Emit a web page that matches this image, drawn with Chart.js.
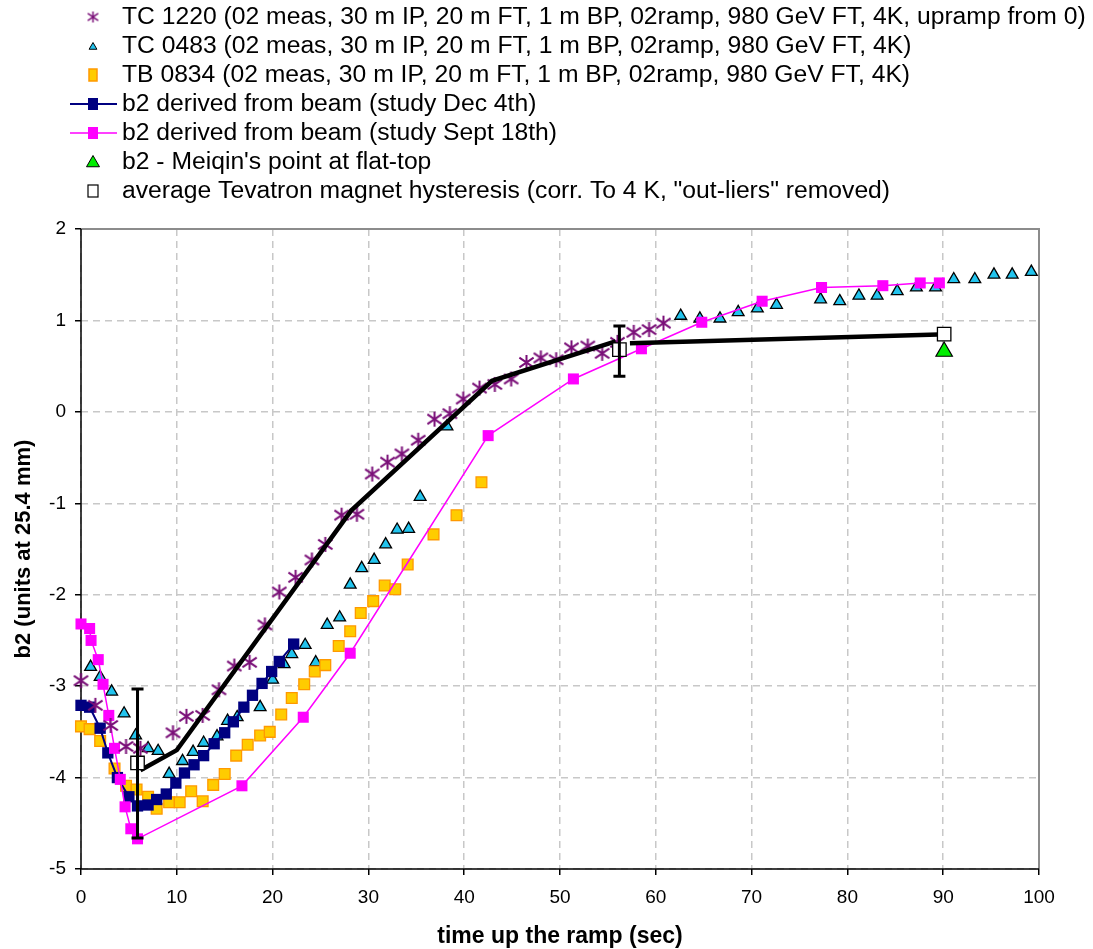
<!DOCTYPE html>
<html>
<head>
<meta charset="utf-8">
<title>b2 up the ramp</title>
<script src="https://cdn.jsdelivr.net/npm/chart.js@4.4.0/dist/chart.umd.min.js"></script>
<style>
  body { margin: 0; background: #fff; }
  #wrap { width: 1093px; height: 949px; }
</style>
</head>
<body>
<div id="wrap"><canvas id="b2Chart" width="1093" height="949"></canvas></div>
<script>
// TC 1220 magnet measurement (upramp from 0)
const tc1220X = [0, 1.5, 3.1, 4.7, 6.2, 9.6, 11.0, 12.7, 14.4, 16.0, 17.6, 19.2, 20.7, 22.4, 24.1, 25.5, 27.2, 28.8,
                 30.4, 32.0, 33.5, 35.2, 36.9, 38.5, 39.9, 41.6, 43.2, 44.9, 46.5, 48.0, 49.6, 51.2, 52.9, 54.4, 56.0, 57.7, 59.3, 60.8];
const tc1220Y = [-2.94, -3.21, -3.43, -3.66, -3.68, -3.51, -3.33, -3.32, -3.04, -2.78, -2.74, -2.33, -1.97, -1.81, -1.62, -1.45, -1.13, -1.12,
                 -0.68, -0.55, -0.46, -0.31, -0.08, -0.02, 0.14, 0.26, 0.30, 0.36, 0.54, 0.59, 0.57, 0.70, 0.72, 0.64, 0.76, 0.87, 0.90, 0.97];

// TC 0483
const tc0483X = [1.0, 2.0, 3.2, 4.5, 5.7, 7.0, 8.05, 9.2, 10.6, 11.7, 12.8, 14.2, 15.3, 16.3, 18.7, 20.0, 21.2, 22.0, 23.4, 24.5,
                 25.7, 27.0, 28.1, 29.3, 30.6, 31.8, 33.0, 34.2, 35.4, 38.2, 62.6, 64.6, 66.7, 68.6, 70.6, 72.6,
                 77.2, 79.2, 81.2, 83.1, 85.2, 87.2, 89.2, 91.1, 93.3, 95.3, 97.2, 99.2];
const tc0483Y = [-2.79, -2.90, -3.06, -3.30, -3.54, -3.68, -3.71, -3.96, -3.82, -3.72, -3.62, -3.55, -3.38, -3.34, -3.23, -2.93, -2.76, -2.65, -2.55, -2.74,
                 -2.33, -2.25, -1.89, -1.71, -1.62, -1.45, -1.29, -1.28, -0.93, -0.16, 1.05, 1.02, 1.02, 1.09, 1.13, 1.17,
                 1.23, 1.21, 1.27, 1.27, 1.32, 1.36, 1.36, 1.45, 1.45, 1.50, 1.50, 1.53];

// TB 0834
const tb0834X = [0, 0.9, 2.0, 3.5, 4.7, 5.8, 7.0, 7.9, 9.2, 10.3, 11.5, 12.7, 13.8, 15.0, 16.2, 17.4, 18.7, 19.7, 20.9, 22.0,
                 23.3, 24.4, 25.5, 26.9, 28.1, 29.2, 30.5, 31.7, 32.8, 34.1, 36.8, 39.2, 41.8];
const tb0834Y = [-3.44, -3.47, -3.60, -3.90, -4.09, -4.13, -4.21, -4.34, -4.27, -4.27, -4.15, -4.26, -4.08, -3.96, -3.76, -3.64, -3.54, -3.50, -3.31, -3.13,
                 -2.98, -2.84, -2.77, -2.56, -2.40, -2.20, -2.07, -1.90, -1.94, -1.67, -1.34, -1.13, -0.77];

// b2 from beam, study Dec 4th
const dec4X = [0, 0.9, 2.0, 2.8, 3.8, 5.0, 5.9, 7.0, 7.9, 8.9, 9.9, 10.8, 11.8, 12.8, 13.9, 15.0, 15.9, 17.0, 17.9, 18.9, 19.9, 20.7, 22.2];
const dec4Y = [-3.21, -3.23, -3.46, -3.73, -4.00, -4.21, -4.31, -4.30, -4.24, -4.18, -4.06, -3.95, -3.86, -3.76, -3.63, -3.51, -3.39, -3.23, -3.10, -2.97, -2.84, -2.73, -2.54];

// b2 from beam, study Sept 18th
const sep18X = [0, 0.9, 1.05, 1.8, 2.3, 2.9, 3.5, 4.1, 4.6, 5.2, 5.9, 16.8, 23.2, 28.1, 42.5, 51.4, 58.5, 64.8, 71.1, 77.3, 83.7, 87.6, 89.6];
const sep18Y = [-2.32, -2.37, -2.50, -2.71, -2.98, -3.32, -3.68, -4.02, -4.32, -4.56, -4.67, -4.09, -3.34, -2.64, -0.26, 0.36, 0.69, 0.98, 1.21, 1.36, 1.38, 1.41, 1.41];

// Meiqin's flat-top point
const meiqinX = [90.1];
const meiqinY = [0.66];

// average hysteresis with error bars
const hystX = [5.9, 56.2, 90.1];
const hystY = [-3.84, 0.68, 0.85];
const hystLow = [-4.66, 0.39, null];
const hystHigh = [-3.03, 0.94, null];

// thick black hysteresis curve (gap after 56 s)
const hystLineX = [6.2, 10.0, 28.2, 42.9, 55.8, 56.5, 57.3, 90.4];
const hystLineY = [-3.92, -3.70, -1.08, 0.34, 0.77, null, 0.75, 0.85];

const xTicks = [0, 10, 20, 30, 40, 50, 60, 70, 80, 90, 100];
const yTicks = [-5, -4, -3, -2, -1, 0, 1, 2];

const legendLabels = [
    "TC 1220 (02 meas, 30 m IP, 20 m FT, 1 m BP, 02ramp, 980 GeV FT, 4K, upramp from 0)",
    "TC 0483 (02 meas, 30 m IP, 20 m FT, 1 m BP, 02ramp, 980 GeV FT, 4K)",
    "TB 0834 (02 meas, 30 m IP, 20 m FT, 1 m BP, 02ramp, 980 GeV FT, 4K)",
    "b2 derived from beam (study Dec 4th)",
    "b2 derived from beam (study Sept 18th)",
    "b2 - Meiqin's point at flat-top",
    "average Tevatron magnet hysteresis (corr. To 4 K, \"out-liers\" removed)"
];

function pairs(xs, ys) {
    return xs.map((x, i) => ({ x: x, y: ys[i] }));
}

// asterisk marker: an x with a vertical bar
function makeAsterisk(size, color, lw) {
    const c = document.createElement('canvas');
    c.width = size; c.height = size;
    const g = c.getContext('2d');
    const m = size / 2, r = size / 2 - 1;
    g.strokeStyle = color;
    g.lineWidth = lw;
    g.beginPath();
    g.moveTo(m - r * 0.95, m - r * 0.65); g.lineTo(m + r * 0.95, m + r * 0.65);
    g.moveTo(m + r * 0.95, m - r * 0.65); g.lineTo(m - r * 0.95, m + r * 0.65);
    g.moveTo(m, m - r); g.lineTo(m, m + r);
    g.stroke();
    return c;
}

const starMark = makeAsterisk(17, '#7a0f78', 2);
const starMarkSmall = makeAsterisk(13, '#7a0f78', 1.5);

// error bars on the hysteresis points
const errorBars = {
    id: 'errorBars',
    afterDatasetsDraw(chart) {
        const xs = chart.scales.x, ys = chart.scales.y;
        const ctx = chart.ctx;
        ctx.save();
        ctx.strokeStyle = '#000';
        ctx.lineWidth = 3;
        hystX.forEach((x, i) => {
            if (hystLow[i] === null) return;
            const px = xs.getPixelForValue(x);
            const y1 = ys.getPixelForValue(hystLow[i]);
            const y2 = ys.getPixelForValue(hystHigh[i]);
            ctx.beginPath();
            ctx.moveTo(px, y1); ctx.lineTo(px, y2);
            ctx.moveTo(px - 6, y1); ctx.lineTo(px + 6, y1);
            ctx.moveTo(px - 6, y2); ctx.lineTo(px + 6, y2);
            ctx.stroke();
        });
        ctx.restore();
    }
};

// plot frame, axis titles and the stacked legend
const frame = {
    id: 'frame',
    beforeDatasetsDraw(chart) {
        const a = chart.chartArea, ctx = chart.ctx;
        ctx.save();
        ctx.strokeStyle = '#8c8c8c';
        ctx.lineWidth = 2;
        ctx.beginPath();
        ctx.moveTo(a.left, a.top); ctx.lineTo(a.right, a.top); ctx.lineTo(a.right, a.bottom);
        ctx.stroke();
        ctx.strokeStyle = '#000';
        ctx.lineWidth = 1.5;
        ctx.beginPath();
        ctx.moveTo(a.left, a.top); ctx.lineTo(a.left, a.bottom); ctx.lineTo(a.right, a.bottom);
        ctx.stroke();
        ctx.restore();
    },
    afterDraw(chart) {
        const a = chart.chartArea, ctx = chart.ctx;
        ctx.save();
        ctx.fillStyle = '#000';
        ctx.textAlign = 'center';
        ctx.textBaseline = 'middle';
        ctx.font = 'bold 23px "Liberation Sans", Arial, sans-serif';
        ctx.fillText('time up the ramp (sec)', (a.left + a.right) / 2, 937);
        ctx.font = 'bold 22px "Liberation Sans", Arial, sans-serif';
        ctx.translate(24, (a.top + a.bottom) / 2);
        ctx.rotate(-Math.PI / 2);
        ctx.fillText('b2 (units at 25.4 mm)', 0, 0);
        ctx.restore();

        const draw = Chart.helpers.drawPoint;
        ctx.save();
        ctx.font = '24.7px "Liberation Sans", Arial, sans-serif';
        ctx.textBaseline = 'middle';
        ctx.textAlign = 'left';
        legendLabels.forEach((text, i) => {
            const y = 17 + i * 29;
            const mx = 93;
            ctx.lineWidth = 1;
            if (i === 0) {
                ctx.drawImage(starMarkSmall, mx - 6.5, y - 6.5);
            } else if (i === 1) {
                ctx.fillStyle = '#22c4ee'; ctx.strokeStyle = '#000'; ctx.lineWidth = 1;
                draw(ctx, { pointStyle: 'triangle', radius: 4.5, rotation: 0, borderWidth: 1 }, mx, y + 1);
            } else if (i === 2) {
                ctx.fillStyle = '#ffcc00'; ctx.strokeStyle = '#ff9900'; ctx.lineWidth = 1.5;
                ctx.fillRect(mx - 4, y - 6, 8, 12); ctx.strokeRect(mx - 4, y - 6, 8, 12);
            } else if (i === 3 || i === 4) {
                const col = i === 3 ? '#000080' : '#ff00ff';
                ctx.strokeStyle = col; ctx.lineWidth = i === 3 ? 2 : 1.5;
                ctx.beginPath(); ctx.moveTo(70, y); ctx.lineTo(117, y); ctx.stroke();
                ctx.fillStyle = col;
                ctx.fillRect(mx - 5, y - 6, 10, 12);
            } else if (i === 5) {
                ctx.fillStyle = '#00ee00'; ctx.strokeStyle = '#000'; ctx.lineWidth = 1;
                draw(ctx, { pointStyle: 'triangle', radius: 7.5, rotation: 0, borderWidth: 1 }, mx, y + 1);
            } else {
                ctx.fillStyle = '#fff'; ctx.strokeStyle = '#000'; ctx.lineWidth = 1.2;
                ctx.fillRect(mx - 5, y - 6, 10, 12); ctx.strokeRect(mx - 5, y - 6, 10, 12);
            }
            ctx.fillStyle = '#000';
            ctx.fillText(text, 122, y);
        });
        ctx.restore();
    }
};

const axisGrid = {
    color: '#c8c8c8',
    lineWidth: 1.5,
    tickColor: '#000',
    tickLength: 6,
    tickBorderDash: [],
    tickWidth: 1.5
};

const ctx = document.getElementById('b2Chart').getContext('2d');
new Chart(ctx, {
    type: 'scatter',
    data: {
        datasets: [
            {
                label: 'average hysteresis curve',
                data: pairs(hystLineX, hystLineY),
                showLine: true,
                spanGaps: false,
                borderColor: '#000',
                borderWidth: 4.5,
                pointRadius: 0,
                order: 2
            },
            {
                label: legendLabels[6],
                data: pairs(hystX, hystY),
                pointStyle: 'rect',
                pointRadius: 9.5,
                backgroundColor: '#fff',
                borderColor: '#000',
                pointBorderWidth: 1.3,
                clip: false,
                order: 1
            },
            {
                label: legendLabels[5],
                data: pairs(meiqinX, meiqinY),
                pointStyle: 'triangle',
                pointRadius: 9.5,
                backgroundColor: '#00ee00',
                borderColor: '#000',
                pointBorderWidth: 1.2,
                clip: false,
                order: 1
            },
            {
                label: legendLabels[0],
                data: pairs(tc1220X, tc1220Y),
                pointStyle: starMark,
                clip: false,
                order: 3
            },
            {
                label: legendLabels[4],
                data: pairs(sep18X, sep18Y),
                showLine: true,
                borderColor: '#ff00ff',
                backgroundColor: '#ff00ff',
                borderWidth: 1.5,
                pointStyle: 'rect',
                pointRadius: 7.8,
                pointBorderWidth: 0,
                clip: false,
                order: 4
            },
            {
                label: legendLabels[3],
                data: pairs(dec4X, dec4Y),
                showLine: true,
                borderColor: '#000080',
                backgroundColor: '#000080',
                borderWidth: 2,
                pointStyle: 'rect',
                pointRadius: 8,
                pointBorderWidth: 0,
                clip: false,
                order: 5
            },
            {
                label: legendLabels[2],
                data: pairs(tb0834X, tb0834Y),
                pointStyle: 'rect',
                pointRadius: 7.6,
                backgroundColor: '#ffcc00',
                borderColor: '#ff9900',
                pointBorderWidth: 1.3,
                clip: false,
                order: 6
            },
            {
                label: legendLabels[1],
                data: pairs(tc0483X, tc0483Y),
                pointStyle: 'triangle',
                pointRadius: 6.8,
                backgroundColor: '#22c4ee',
                borderColor: '#000',
                pointBorderWidth: 1.3,
                clip: false,
                order: 7
            }
        ]
    },
    options: {
        responsive: false,
        animation: false,
        layout: { padding: { left: 0, top: 229, right: 54, bottom: 0 } },
        plugins: {
            legend: { display: false },
            tooltip: { enabled: false }
        },
        scales: {
            x: {
                type: 'linear',
                min: 0,
                max: 100,
                afterBuildTicks(scale) { scale.ticks = xTicks.map(v => ({ value: v })); },
                afterFit(scale) { scale.height = 80; },
                border: { display: false, dash: [7, 5] },
                grid: axisGrid,
                ticks: {
                    color: '#000',
                    font: { family: '"Liberation Sans", Arial, sans-serif', size: 19 },
                    padding: 11,
                    maxRotation: 0
                }
            },
            y: {
                type: 'linear',
                min: -5,
                max: 2,
                afterBuildTicks(scale) { scale.ticks = yTicks.map(v => ({ value: v })); },
                afterFit(scale) { scale.width = 81; },
                border: { display: false, dash: [7, 5] },
                grid: axisGrid,
                ticks: {
                    color: '#000',
                    font: { family: '"Liberation Sans", Arial, sans-serif', size: 19 },
                    padding: 9
                }
            }
        }
    },
    plugins: [frame, errorBars]
});
</script>
</body>
</html>
